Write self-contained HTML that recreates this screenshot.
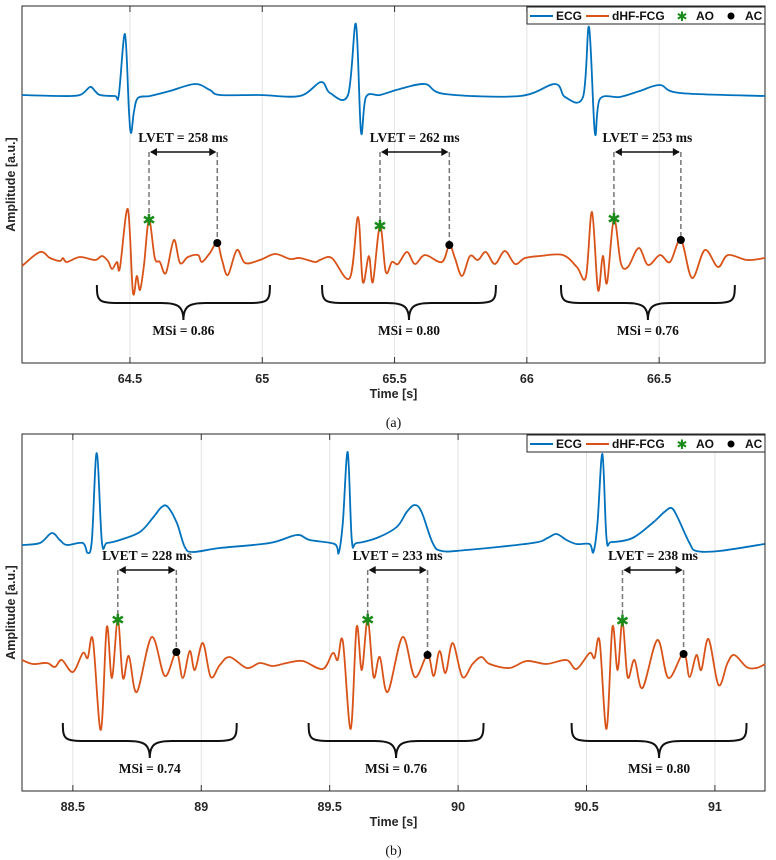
<!DOCTYPE html>
<html><head><meta charset="utf-8">
<style>
html,body{margin:0;padding:0;background:#fff;}
svg{display:block;}
.tick{font-family:"Liberation Sans",sans-serif;font-weight:bold;font-size:12.5px;fill:#262626;}
.ann{font-family:"Liberation Serif",serif;font-weight:bold;font-size:13.5px;fill:#111;}
.cap{font-family:"Liberation Serif",serif;font-size:14px;fill:#111;}
.leg{font-family:"Liberation Sans",sans-serif;font-weight:bold;font-size:12px;fill:#111;}
</style></head>
<body>
<svg id="fig" width="776" height="860" viewBox="0 0 776 860" xmlns="http://www.w3.org/2000/svg"></svg>
<script>
// ---------------- Panel (a) data ----------------
const aEcgT=[64.092,64.235,64.311,64.349,64.368,64.387,64.443,64.458,64.481,64.496,64.504,64.515,64.530,64.576,64.651,64.746,64.802,64.840,64.991,65.142,65.222,65.256,65.324,65.354,65.373,65.392,65.445,65.520,65.615,65.690,65.974,66.106,66.144,66.212,66.235,66.257,66.276,66.352,66.427,66.503,66.578,66.900];
const aEcgV=[268,267,268,276,272,268,267,268,329,253,230,251,265,267,272,279,273,268,268,267,281,270,268,339,231,266,268,274,279,269,267,279,266,266,336,230,264,266,272,278,270,267];
const aFcgT=[64.092,64.160,64.198,64.235,64.247,64.262,64.311,64.368,64.394,64.417,64.432,64.451,64.462,64.492,64.511,64.526,64.538,64.553,64.572,64.594,64.613,64.636,64.666,64.689,64.719,64.757,64.772,64.802,64.830,64.848,64.870,64.904,64.935,64.991,65.048,65.105,65.142,65.199,
65.218,65.263,65.331,65.362,65.380,65.403,65.418,65.445,65.467,65.490,65.513,65.547,65.577,65.615,65.679,65.707,65.728,65.755,65.785,65.815,65.845,65.879,65.917,65.955,65.993,66.049,
66.136,66.189,66.223,66.246,66.269,66.287,66.303,66.329,66.355,66.382,66.423,66.458,66.503,66.541,66.582,66.624,66.673,66.722,66.760,66.832,66.900];
const aFcgV=[97,111,105,102,105,101,106,103,107,102,94,101,95,154,71,87,73,98,143,105,101,90,123,100,106,108,101,110,120,103,88,113,100,103,109,104,105,101,
103,105,85,146,81,107,81,137,91,101,99,111,99,108,101,118,105,87,107,103,111,99,112,99,105,107,
108,96,86,151,73,107,80,144,100,96,115,98,108,101,123,85,113,96,108,103,105];
const aAO=[64.572,65.445,66.329];
const aAOv=[143,137,144];
const aLVET=[258,262,253];
const aACv=[120,118,123];
const aBraceStart=[64.375,65.226,66.129];
const aBraceEnd=[65.029,65.883,66.786];
const aMSi=["0.86","0.80","0.76"];
const aTicks=[64.5,65,65.5,66,66.5];
const aTickLabels=["64.5","65","65.5","66","66.5"];

// ---------------- Panel (b) data ----------------
const bEcgT=[88.302,88.372,88.418,88.449,88.477,88.539,88.558,88.574,88.593,88.613,88.632,88.683,88.761,88.811,88.846,88.870,88.905,88.936,88.967,89.072,89.267,89.372,89.422,
89.519,89.535,89.551,89.570,89.586,89.605,89.683,89.761,89.800,89.831,89.858,89.901,89.936,90.033,90.290,90.348,90.383,90.422,90.461,
90.512,90.527,90.543,90.562,90.578,90.597,90.679,90.757,90.803,90.831,90.854,90.901,90.928,91.017,91.193];
const bEcgV=[246,248,258,251,246,248,238,251,338,249,248,251,259,273,284,284,268,244,239,243,248,256,251,
247,238,268,339,251,248,253,264,279,286,279,248,240,241,248,253,257,251,247,
247,239,268,337,253,249,253,268,279,283,274,248,240,240,247];
const bFcgT=[88.302,88.344,88.399,88.430,88.457,88.500,88.539,88.558,88.578,88.609,88.632,88.652,88.675,88.695,88.718,88.749,88.807,88.858,88.903,88.928,88.955,88.975,89.006,89.037,89.072,89.111,89.177,89.228,89.278,89.333,89.395,
89.473,89.512,89.531,89.551,89.582,89.605,89.625,89.648,89.671,89.695,89.726,89.784,89.831,89.881,89.905,89.928,89.951,89.979,90.017,90.056,90.091,90.123,90.200,90.267,90.344,90.422,
90.461,90.512,90.531,90.551,90.578,90.601,90.621,90.640,90.660,90.687,90.718,90.776,90.819,90.878,90.901,90.928,90.947,90.975,91.014,91.049,91.076,91.123,91.161,91.196];
const bFcgV=[131,127,128,124,131,119,138,133,151,61,164,113,171,113,135,99,154,115,139,113,140,121,148,114,126,134,123,128,125,128,130,
122,138,131,150,62,164,121,171,114,134,99,154,114,136,115,140,118,148,114,127,134,127,123,130,127,131,
122,138,133,150,62,164,121,170,114,131,103,151,113,138,114,136,121,152,106,128,136,124,123,127];
const bAO=[88.675,89.648,90.640];
const bAOv=[171,171,170];
const bLVET=[228,233,238];
const bACv=[139,136,137];
const bBraceStart=[88.461,89.418,90.442];
const bBraceEnd=[89.138,90.099,91.123];
const bMSi=["0.74","0.76","0.80"];
const bTicks=[88.5,89,89.5,90,90.5,91];
const bTickLabels=["88.5","89","89.5","90","90.5","91"];

const NS="http://www.w3.org/2000/svg";
const svg=document.getElementById('fig');
function mk(tag,attrs,parent){const e=document.createElementNS(NS,tag);for(const k in attrs)e.setAttribute(k,attrs[k]);(parent||svg).appendChild(e);return e;}
function smooth(pts){
  let d='M'+pts[0][0].toFixed(1)+','+pts[0][1].toFixed(1);
  for(let i=0;i<pts.length-1;i++){
    const p0=pts[Math.max(0,i-1)],p1=pts[i],p2=pts[i+1],p3=pts[Math.min(pts.length-1,i+2)];
    const c1x=p1[0]+(p2[0]-p0[0])/6,c1y=p1[1]+(p2[1]-p0[1])/6;
    const c2x=p2[0]-(p3[0]-p1[0])/6,c2y=p2[1]-(p3[1]-p1[1])/6;
    d+=' C'+c1x.toFixed(1)+','+c1y.toFixed(1)+' '+c2x.toFixed(1)+','+c2y.toFixed(1)+' '+p2[0].toFixed(1)+','+p2[1].toFixed(1);
  }
  return d;
}

function panel(cfg){
  const L=22,R=765,top=cfg.top,bot=cfg.top+357;
  const x=t=>L+(t-cfg.t0)/(cfg.t1-cfg.t0)*(R-L);
  const y=v=>bot-v*(bot-top)/357;
  const g=mk('g',{});
  
  
  cfg.ticks.forEach((t,i)=>{
    const gl=mk('line',{x1:x(t),x2:x(t),y1:top,y2:bot,stroke:'#e3e3e3','stroke-width':1},g);
    
    
    mk('line',{x1:x(t),x2:x(t),y1:bot,y2:bot-6,stroke:'#333','stroke-width':1},g);
    mk('line',{x1:x(t),x2:x(t),y1:top,y2:top+6,stroke:'#333','stroke-width':1},g);
    const tl=mk('text',{x:x(t),y:bot+20,'text-anchor':'middle',class:'tick'},g);
    tl.textContent=cfg.tickLabels[i];
    
    
  });
  const box=mk('rect',{x:L,y:top,width:R-L,height:bot-top,fill:'none',stroke:'#262626','stroke-width':1},g);
  
  
  const xl=mk('text',{x:(L+R)/2,y:bot+35,'text-anchor':'middle',class:'tick'},g);
  xl.textContent='Time [s]';
  
  
  const yl=mk('text',{x:0,y:0,'text-anchor':'middle',class:'tick',transform:'translate(15,'+((top+bot)/2)+') rotate(-90)'},g);
  yl.textContent='Amplitude [a.u.]';
  
  
  const cap=mk('text',{x:(L+R)/2,y:bot+64,'text-anchor':'middle',class:'cap'},g);
  cap.textContent=cfg.caption;
  
  
  const ecg=mk('path',{d:smooth(cfg.ecgT.map((t,i)=>[x(t),y(cfg.ecgV[i])])),fill:'none',stroke:'#0072BD','stroke-width':1.8,'stroke-linejoin':'round'},g);
  
  
  const fcg=mk('path',{d:smooth(cfg.fcgT.map((t,i)=>[x(t),y(cfg.fcgV[i])])),fill:'none',stroke:'#D95319','stroke-width':1.8,'stroke-linejoin':'round'},g);
  
  
  cfg.ao.forEach((t,i)=>{
    const tac=t+cfg.lvet[i]/1000;
    const xa=x(t),xc=x(tac),ya=y(cfg.aoV[i]),yc=y(cfg.acV[i]),yArr=y(cfg.arrV);
    mk('line',{x1:xa,x2:xa,y1:yArr,y2:ya,stroke:'#777','stroke-width':1.5,'stroke-dasharray':'5,3'},g);
    mk('line',{x1:xc,x2:xc,y1:yArr,y2:yc,stroke:'#777','stroke-width':1.5,'stroke-dasharray':'5,3'},g);
    const ar=mk('line',{x1:xa+2,x2:xc-2,y1:yArr,y2:yArr,stroke:'#111','stroke-width':1.5},g);
    
    
    mk('path',{d:`M${xa+1},${yArr} l7,-4 l0,8 z M${xc-1},${yArr} l-7,-4 l0,8 z`,fill:'#111'},g);
    const lt=mk('text',{x:(xa+xc)/2,y:yArr-10,'text-anchor':'middle',class:'ann'},g);
    lt.textContent='LVET = '+cfg.lvet[i]+' ms';
    
    
    const st=mk('text',{x:xa,y:ya+5.5,'text-anchor':'middle','font-size':'16','font-weight':'bold',fill:'#1a8a1a','font-family':'DejaVu Sans, sans-serif'},g);
    st.textContent='✱';
    
    
    const dc=mk('circle',{cx:xc,cy:yc,r:4,fill:'#000'},g);
    
    
    const x1=x(cfg.bs[i]),x2=x(cfg.be[i]),tp=(x1+x2)/2,b0=cfg.braceTop,bm=b0+18,bt=b0+35;
    const br=mk('path',{d:`M${x1},${b0} C${x1},${bm} ${x1+2},${bm} ${x1+28},${bm} L${tp-22},${bm} C${tp-6},${bm} ${tp},${bm+3} ${tp},${bt} C${tp},${bm+3} ${tp+6},${bm} ${tp+22},${bm} L${x2-28},${bm} C${x2-2},${bm} ${x2},${bm} ${x2},${b0}`,fill:'none',stroke:'#111','stroke-width':2},g);
    
    
    const mt=mk('text',{x:tp,y:bt+15,'text-anchor':'middle',class:'ann'},g);
    mt.textContent='MSi = '+cfg.msi[i];
    
    
  });
  const lg=mk('g',{},g);
  
  
  const ly=top+1;
  mk('rect',{x:527,y:ly,width:238,height:17,fill:'#fff',stroke:'#262626','stroke-width':1},lg);
  const cyl=ly+9;
  mk('line',{x1:530,x2:553,y1:cyl,y2:cyl,stroke:'#0072BD','stroke-width':2},lg);
  let t1=mk('text',{x:556,y:cyl+4,class:'leg'},lg);t1.textContent='ECG';
  mk('line',{x1:586,x2:609,y1:cyl,y2:cyl,stroke:'#D95319','stroke-width':2},lg);
  let t2=mk('text',{x:612,y:cyl+4,class:'leg'},lg);t2.textContent='dHF-FCG';
  let t3=mk('text',{x:682,y:cyl+5,'text-anchor':'middle','font-size':'13','font-weight':'bold',fill:'#1a8a1a','font-family':'DejaVu Sans, sans-serif'},lg);t3.textContent='✱';
  let t4=mk('text',{x:696,y:cyl+4,class:'leg'},lg);t4.textContent='AO';
  mk('circle',{cx:731,cy:cyl,r:3.5,fill:'#000'},lg);
  let t5=mk('text',{x:745,y:cyl+4,class:'leg'},lg);t5.textContent='AC';
}

panel({name:'panel-a',top:6,t0:64.092,t1:66.900,ticks:aTicks,tickLabels:aTickLabels,caption:'(a)',
  ecgT:aEcgT,ecgV:aEcgV,fcgT:aFcgT,fcgV:aFcgV,ao:aAO,aoV:aAOv,lvet:aLVET,acV:aACv,arrV:211,
  bs:aBraceStart,be:aBraceEnd,msi:aMSi,braceTop:285});
panel({name:'panel-b',top:434,t0:88.302,t1:91.195,ticks:bTicks,tickLabels:bTickLabels,caption:'(b)',
  ecgT:bEcgT,ecgV:bEcgV,fcgT:bFcgT,fcgV:bFcgV,ao:bAO,aoV:bAOv,lvet:bLVET,acV:bACv,arrV:221,
  bs:bBraceStart,be:bBraceEnd,msi:bMSi,braceTop:723});
</script>
</body></html>
